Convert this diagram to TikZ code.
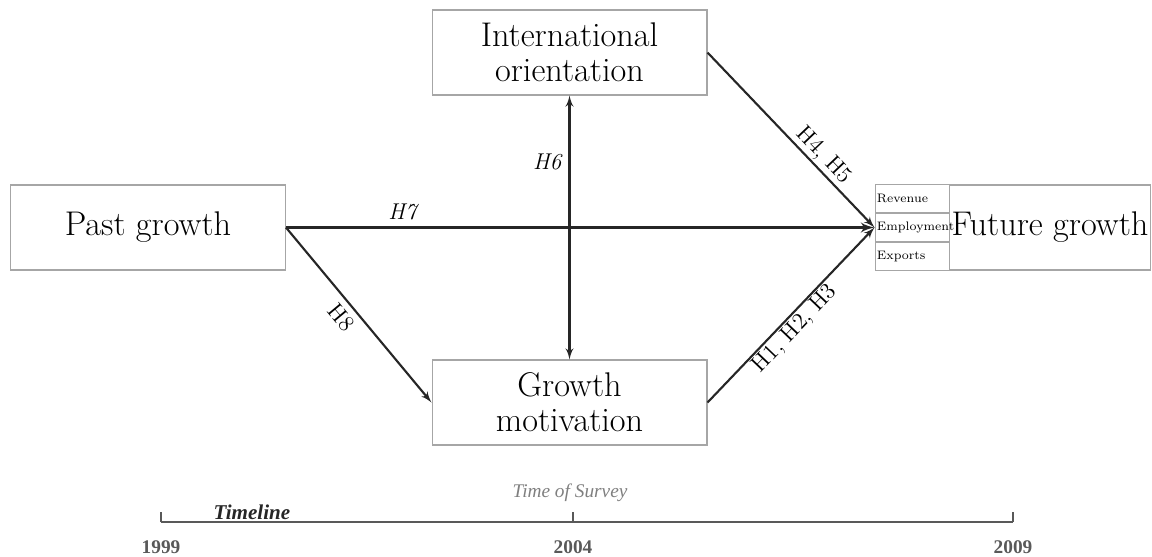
\documentclass[tikz,border=0pt]{standalone}
\usepackage{fontspec}
\newfontfamily\tlfont{Liberation Serif}
\usetikzlibrary{arrows,positioning}
\definecolor{boxgray}{HTML}{A6A6A6}
\definecolor{arrowdark}{HTML}{262626}
\definecolor{tlgray}{HTML}{595959}
\definecolor{surveygray}{HTML}{7F7F7F}

\begin{document}
\begin{tikzpicture}[x=0.02cm,y=-0.02cm,>=latex',every node/.append style={align=center},
    box/.style={draw=boxgray, line width=0.6pt, minimum width=5.5cm, minimum height=1.7cm, font=\fontsize{19.5}{20}\selectfont},
    cell/.style={draw=boxgray, line width=0.5pt, minimum width=1.48cm, minimum height=0.567cm, text width=1.4cm, inner xsep=1pt, align=left, font=\fontsize{7}{8}\selectfont},
    lnk/.style={draw=arrowdark, line width=1.2pt},
    hyp/.style={font=\fontsize{13}{15}\selectfont},
    tl/.style={draw=tlgray, line width=1.1pt},
    year/.style={text=tlgray, font=\tlfont\bfseries\fontsize{11}{13}\selectfont}]
        \useasboundingbox (0,0) rectangle (1152,556);
        \node [box] (past) at (148,227.5) {Past growth};
        \node [box] (intl) at (569.5,52.5) {International\\orientation};
        \node [box] (motiv) at (569.5,402.5) {Growth\\motivation};
        \node [box, minimum width=4cm, inner xsep=1pt] (fut) at (1050,227.5) {Future growth};
        \node [cell, left=0pt of fut] (emp) {Employment};
        \node [cell, above=0pt of emp] (rev) {Revenue};
        \node [cell, below=0pt of emp] (exp) {Exports};
        \draw [->, lnk, line width=1.7pt] (past.east) -- node[hyp, above, pos=0.2] {\textit{H7}} (emp.west);
        \draw [->, lnk] (past.east) -- node[hyp, sloped, below, pos=0.46] {H8} (motiv.west);
        \draw [<->, lnk] (intl.south) -- node[hyp, left, pos=0.25] {\textit{H6}} (motiv.north);
        \draw [->, lnk] (intl.east) -- node[hyp, sloped, above, pos=0.64, inner sep=1pt] {H4, H5} (emp.west);
        \draw [->, lnk] (motiv.east) -- node[hyp, sloped, below, pos=0.47, inner sep=1pt] {H1, H2, H3} (emp.west);
        % timeline
        \coordinate (t0) at (161,522);
        \coordinate (t1) at (573,522);
        \coordinate (t2) at (1013,522);
        \draw [tl] (t0) -- (t2);
        \draw [tl] (t0) -- ++(0,-10) (t1) -- ++(0,-10) (t2) -- ++(0,-10);
        \node [year] (y1) at (161,547) {1999};
        \node [year] (y2) at (573,547) {2004};
        \node [year] (y3) at (1013,547) {2009};
        \node [text=arrowdark, font=\tlfont\bfseries\itshape\fontsize{12}{14}\selectfont] (tline) at (252,512) {Timeline};
        \node [text=surveygray, font=\tlfont\itshape\fontsize{11}{13}\selectfont] (survey) at (570,493) {Time of Survey};
    \end{tikzpicture}
\end{document}
